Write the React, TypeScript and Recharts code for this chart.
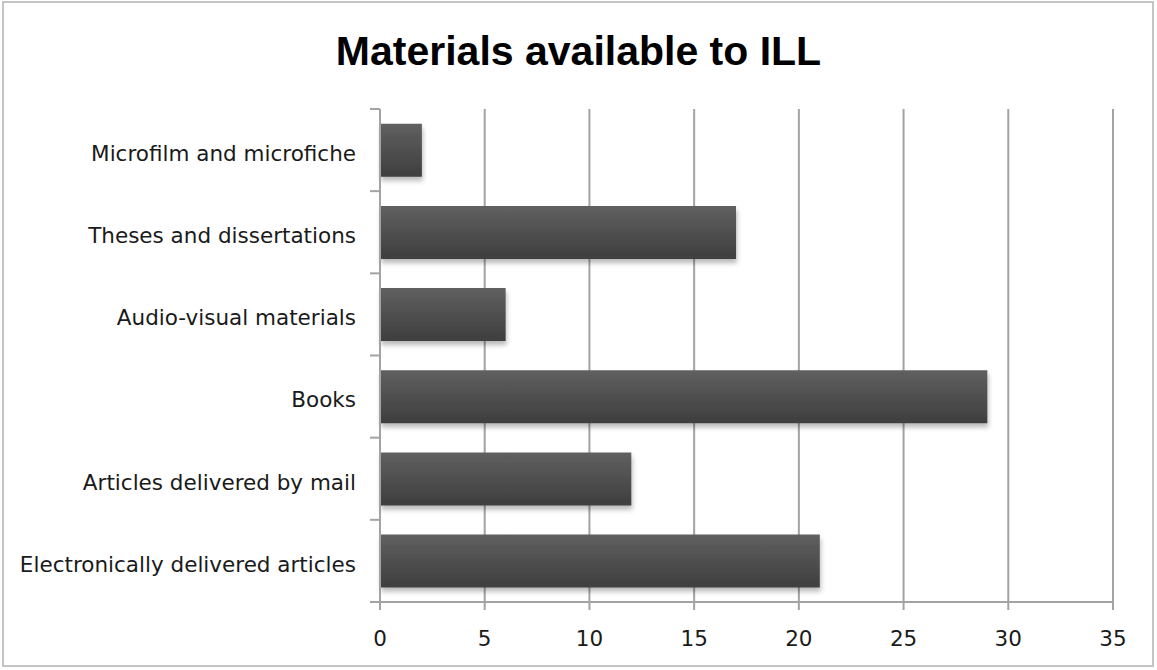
import { BarChart, Bar, XAxis, YAxis, CartesianGrid } from "recharts";

const categories = [
  "Microfilm and microfiche",
  "Theses and dissertations",
  "Audio-visual materials",
  "Books",
  "Articles delivered by mail",
  "Electronically delivered articles",
];
const counts = [2, 17, 6, 29, 12, 21];
const xTicks = [0, 5, 10, 15, 20, 25, 30, 35];

const data = categories.map((name, i) => ({ name, value: counts[i] }));

const W = 1157;
const H = 670;
const AXIS_W = 380;
const X_AXIS_H = 68;
const TICK_LEN = 10;
const LABEL_GAP = 14;
const GRID = "#a3a3a3";
const FONT = "'DejaVu Sans', sans-serif";
const LABEL_SIZE = 21.5;

function CategoryTick(props: any) {
  const { x, y, payload, index, plotHeight } = props;
  const half = payload?.offset ?? plotHeight / categories.length / 2;
  const axisX = x + LABEL_GAP + TICK_LEN;
  return (
    <g>
      <line x1={axisX - TICK_LEN} x2={axisX} y1={y - half} y2={y - half} stroke={GRID} strokeWidth={2} />
      {index === categories.length - 1 && (
        <line x1={axisX - TICK_LEN} x2={axisX} y1={y + half} y2={y + half} stroke={GRID} strokeWidth={2} />
      )}
      <text x={x} y={y} dy="0.5em" textAnchor="end" fontSize={LABEL_SIZE} fontFamily={FONT} fill="#1a1a1a">
        {payload.value}
      </text>
    </g>
  );
}

export default function App() {
  const margin = { top: 109, right: 44, bottom: 0, left: 0 };
  const plotHeight = H - margin.top - X_AXIS_H;
  return (
    <div style={{ position: "absolute", left: 0, top: 0, width: W, height: H, background: "#fff" }}>
      <div
        style={{
          position: "absolute", left: 2, top: 1, width: W - 5, height: H - 4,
          border: "2px solid #c4c4c4", boxSizing: "border-box", pointerEvents: "none",
        }}
      />
      <div
        style={{
          position: "absolute", left: 0, width: W, top: 27, textAlign: "center",
          fontFamily: "'Liberation Sans', Arial, sans-serif", fontWeight: 700, fontSize: 41,
          color: "#000", lineHeight: "48px",
        }}
      >
        Materials available to ILL
      </div>
      <BarChart
        width={W}
        height={H}
        data={data}
        layout="vertical"
        margin={margin}
        barCategoryGap="18%"
      >
        <defs>
          <linearGradient id="barFill" x1="0" y1="0" x2="0" y2="1">
            <stop offset="0%" stopColor="#606060" />
            <stop offset="100%" stopColor="#3e3e3e" />
          </linearGradient>
          <filter id="barShadow" x="-5%" y="-10%" width="115%" height="140%">
            <feDropShadow dx="1" dy="4" stdDeviation="2.5" floodColor="#000" floodOpacity="0.28" />
          </filter>
        </defs>
        <CartesianGrid horizontal={false} stroke={GRID} strokeWidth={2} />
        <XAxis
          type="number"
          domain={[0, 35]}
          ticks={xTicks}
          interval={0}
          height={X_AXIS_H}
          stroke={GRID}
          strokeWidth={2}
          tickSize={8}
          tickMargin={21}
          tick={{ fontSize: LABEL_SIZE, fontFamily: FONT, fill: "#1a1a1a" }}
        />
        <YAxis
          type="category"
          dataKey="name"
          width={AXIS_W}
          stroke={GRID}
          strokeWidth={2}
          tickLine={false}
          tickSize={TICK_LEN}
          tickMargin={LABEL_GAP}
          interval={0}
          tick={<CategoryTick plotHeight={plotHeight} />}
        />
        <Bar
          dataKey="value"
          fill="url(#barFill)"
          filter="url(#barShadow)"
          isAnimationActive={false}
        />
      </BarChart>
    </div>
  );
}
